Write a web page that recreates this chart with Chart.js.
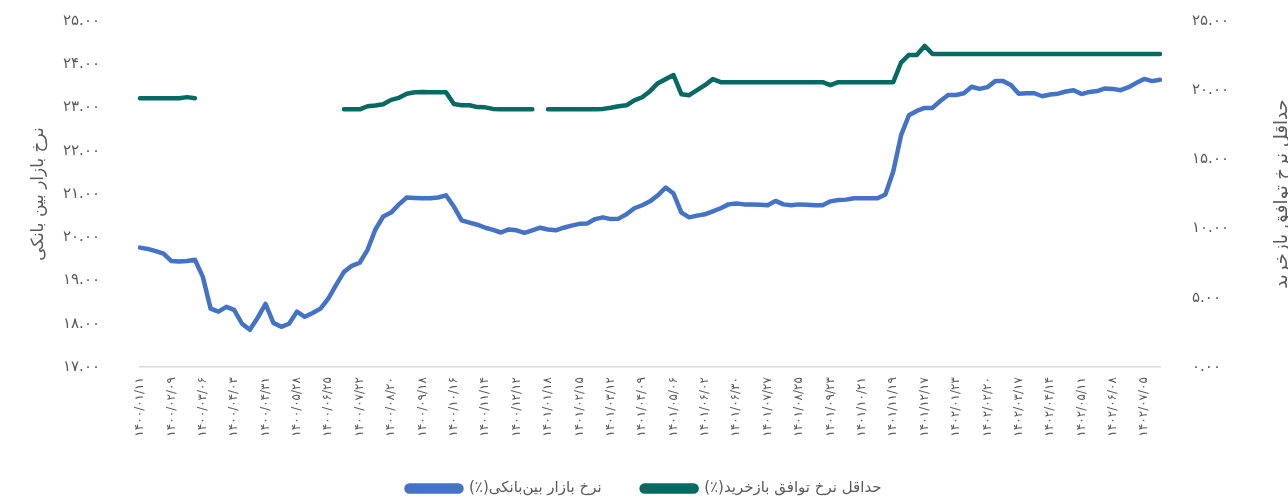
<!DOCTYPE html>
<html>
<head>
<meta charset="utf-8">
<script src="https://cdn.jsdelivr.net/npm/chart.js@4"></script>
<style>
  html, body { margin: 0; padding: 0; background: #fff; }
</style>
</head>
<body>
<canvas id="canvas" width="1288" height="499"></canvas>
<script>
// برچسب‌های محور افقی (هر ۴ هفته یک برچسب)
const tickLabels = [
  '۱۴۰۰/۰۱/۱۱', '۱۴۰۰/۰۲/۰۹', '۱۴۰۰/۰۳/۰۶', '۱۴۰۰/۰۴/۰۳', '۱۴۰۰/۰۴/۳۱', '۱۴۰۰/۰۵/۲۸',
  '۱۴۰۰/۰۶/۲۵', '۱۴۰۰/۰۷/۲۲', '۱۴۰۰/۰۸/۲۰', '۱۴۰۰/۰۹/۱۸', '۱۴۰۰/۱۰/۱۶', '۱۴۰۰/۱۱/۱۴',
  '۱۴۰۰/۱۲/۱۲', '۱۴۰۱/۰۱/۱۸', '۱۴۰۱/۰۲/۱۵', '۱۴۰۱/۰۳/۱۲', '۱۴۰۱/۰۴/۰۹', '۱۴۰۱/۰۵/۰۶',
  '۱۴۰۱/۰۶/۰۲', '۱۴۰۱/۰۶/۳۰', '۱۴۰۱/۰۷/۲۷', '۱۴۰۱/۰۸/۲۵', '۱۴۰۱/۰۹/۲۳', '۱۴۰۱/۱۰/۲۱',
  '۱۴۰۱/۱۱/۱۹', '۱۴۰۱/۱۲/۱۷', '۱۴۰۲/۰۱/۲۳', '۱۴۰۲/۰۲/۲۰', '۱۴۰۲/۰۳/۱۷', '۱۴۰۲/۰۴/۱۴',
  '۱۴۰۲/۰۵/۱۱', '۱۴۰۲/۰۶/۰۸', '۱۴۰۲/۰۷/۰۵'
];

// نرخ بازار بین بانکی (محور چپ)
const interbankRate = [
  19.76, 19.73, 19.68, 19.62, 19.45, 19.44, 19.45, 19.48, 19.09, 18.35,
  18.28, 18.39, 18.32, 18.00, 17.86, 18.14, 18.46, 18.02, 17.93, 18.00,
  18.28, 18.16, 18.25, 18.35, 18.58, 18.90, 19.20, 19.34, 19.41, 19.71,
  20.18, 20.48, 20.57, 20.76, 20.92, 20.91, 20.90, 20.90, 20.92, 20.97,
  20.71, 20.39, 20.34, 20.29, 20.22, 20.17, 20.11, 20.18, 20.16, 20.10,
  20.16, 20.22, 20.18, 20.16, 20.22, 20.27, 20.31, 20.32, 20.42, 20.46,
  20.42, 20.43, 20.53, 20.67, 20.74, 20.83, 20.97, 21.15, 21.01, 20.57,
  20.46, 20.50, 20.53, 20.60, 20.67, 20.76, 20.78, 20.76, 20.76, 20.75,
  20.74, 20.84, 20.76, 20.74, 20.76, 20.75, 20.74, 20.74, 20.83, 20.86,
  20.87, 20.90, 20.90, 20.90, 20.90, 20.99, 21.52, 22.36, 22.82, 22.92,
  22.99, 22.99, 23.15, 23.29, 23.29, 23.33, 23.48, 23.43, 23.47, 23.61,
  23.61, 23.52, 23.32, 23.33, 23.33, 23.26, 23.30, 23.32, 23.37, 23.40,
  23.31, 23.36, 23.38, 23.44, 23.43, 23.40, 23.47, 23.57, 23.66, 23.61,
  23.64
];

// حداقل نرخ توافق بازخرید (محور راست)
const repoMinRate = [
  19.42, 19.42, 19.42, 19.42, 19.42, 19.42, 19.50, 19.42, null, null,
  null, null, null, null, null, null, null, null, null, null,
  null, null, null, null, null, null, 18.62, 18.62, 18.62, 18.84,
  18.90, 18.98, 19.30, 19.45, 19.75, 19.85, 19.87, 19.85, 19.85, 19.85,
  19.00, 18.91, 18.91, 18.78, 18.76, 18.65, 18.62, 18.62, 18.62, 18.62,
  18.62, null, 18.62, 18.62, 18.62, 18.62, 18.62, 18.62, 18.62, 18.65,
  18.73, 18.84, 18.91, 19.27, 19.49, 19.93, 20.51, 20.80, 21.09, 19.71,
  19.64, 20.00, 20.36, 20.80, 20.58, 20.58, 20.58, 20.58, 20.58, 20.58,
  20.58, 20.58, 20.58, 20.58, 20.58, 20.58, 20.58, 20.58, 20.36, 20.58,
  20.58, 20.58, 20.58, 20.58, 20.58, 20.58, 20.58, 22.00, 22.55, 22.55,
  23.20, 22.62, 22.62, 22.62, 22.62, 22.62, 22.62, 22.62, 22.62, 22.62,
  22.62, 22.62, 22.62, 22.62, 22.62, 22.62, 22.62, 22.62, 22.62, 22.62,
  22.62, 22.62, 22.62, 22.62, 22.62, 22.62, 22.62, 22.62, 22.62, 22.62,
  22.62
];

const leftAxisTitle = 'نرخ بازار بین بانکی';
const rightAxisTitle = 'حداقل نرخ توافق بازخرید';

const faDigits = '۰۱۲۳۴۵۶۷۸۹';
function toFa(s) {
  return String(s).replace(/\d/g, d => faDigits[d]);
}

const categories = interbankRate.map((_, i) => (i % 4 === 0 ? tickLabels[i / 4] : ''));

const FONT = '"DejaVu Sans", sans-serif';
const GREY = '#595959';

// عنوان محور راست (چرخش مثل محور چپ)
const rightTitle = {
  id: 'rightTitle',
  afterDraw(chart) {
    const { ctx, chartArea } = chart;
    ctx.save();
    ctx.translate(chart.width - 6, (chartArea.top + chartArea.bottom) / 2);
    ctx.rotate(-Math.PI / 2);
    ctx.font = '18px ' + FONT;
    ctx.fillStyle = GREY;
    ctx.textAlign = 'center';
    ctx.textBaseline = 'middle';
    ctx.fillText(rightAxisTitle, 0, 0);
    ctx.restore();
  }
};

// عرض ثابت محور عمودی بدون فاصله اضافه بالا و پایین
function fixWidth(w) {
  return scale => {
    scale.width = w;
    scale.paddingTop = 0;
    scale.paddingBottom = 0;
  };
}

const ctx = document.getElementById('canvas').getContext('2d');
new Chart(ctx, {
  type: 'line',
  data: {
    labels: categories,
    datasets: [{
      label: 'نرخ بازار بین‌بانکی(٪)',
      data: interbankRate,
      yAxisID: 'y',
      borderColor: '#4472C4',
      backgroundColor: '#4472C4',
      borderWidth: 4.5,
      pointRadius: 0,
      tension: 0,
      borderCapStyle: 'round',
      borderJoinStyle: 'round'
    }, {
      label: 'حداقل نرخ توافق بازخرید(٪)',
      data: repoMinRate,
      yAxisID: 'y1',
      borderColor: '#066A62',
      backgroundColor: '#066A62',
      borderWidth: 4.5,
      pointRadius: 0,
      tension: 0,
      spanGaps: false,
      borderCapStyle: 'round',
      borderJoinStyle: 'round'
    }]
  },
  options: {
    responsive: false,
    animation: false,
    devicePixelRatio: 1,
    layout: { padding: { top: 21, left: 0, right: 0, bottom: 0 } },
    plugins: {
      tooltip: { enabled: false },
      legend: {
        position: 'bottom',
        textDirection: 'rtl',
        maxHeight: 58,
        labels: {
          color: GREY,
          font: { family: FONT, size: 15 },
          boxWidth: 55,
          boxHeight: 6,
          useBorderRadius: true,
          borderRadius: 3,
          padding: 40
        }
      }
    },
    scales: {
      x: {
        offset: false,
        afterFit(scale) { scale.height = 74; },
        grid: { display: false, drawTicks: false },
        border: { display: true, color: '#D9D9D9', width: 1.5 },
        ticks: {
          autoSkip: false,
          maxRotation: 90,
          minRotation: 90,
          padding: 10,
          color: GREY,
          font: { family: FONT, size: 12 }
        }
      },
      y: {
        position: 'left',
        min: 17,
        max: 25,
        afterFit: fixWidth(140),
        grid: { display: false, drawTicks: false },
        border: { display: false },
        ticks: {
          stepSize: 1,
          padding: 40,
          color: GREY,
          font: { family: FONT, size: 15 },
          callback: v => toFa(v.toFixed(2))
        },
        title: {
          display: true,
          text: leftAxisTitle,
          color: GREY,
          font: { family: FONT, size: 17 },
          padding: { top: 28, bottom: 0 }
        }
      },
      y1: {
        position: 'right',
        min: 0,
        max: 25,
        afterFit: fixWidth(128),
        grid: { display: false, drawTicks: false },
        border: { display: false },
        ticks: {
          stepSize: 5,
          padding: 32,
          color: GREY,
          font: { family: FONT, size: 15 },
          callback: v => toFa(v.toFixed(2))
        }
      }
    }
  },
  plugins: [rightTitle]
});
</script>
</body>
</html>
